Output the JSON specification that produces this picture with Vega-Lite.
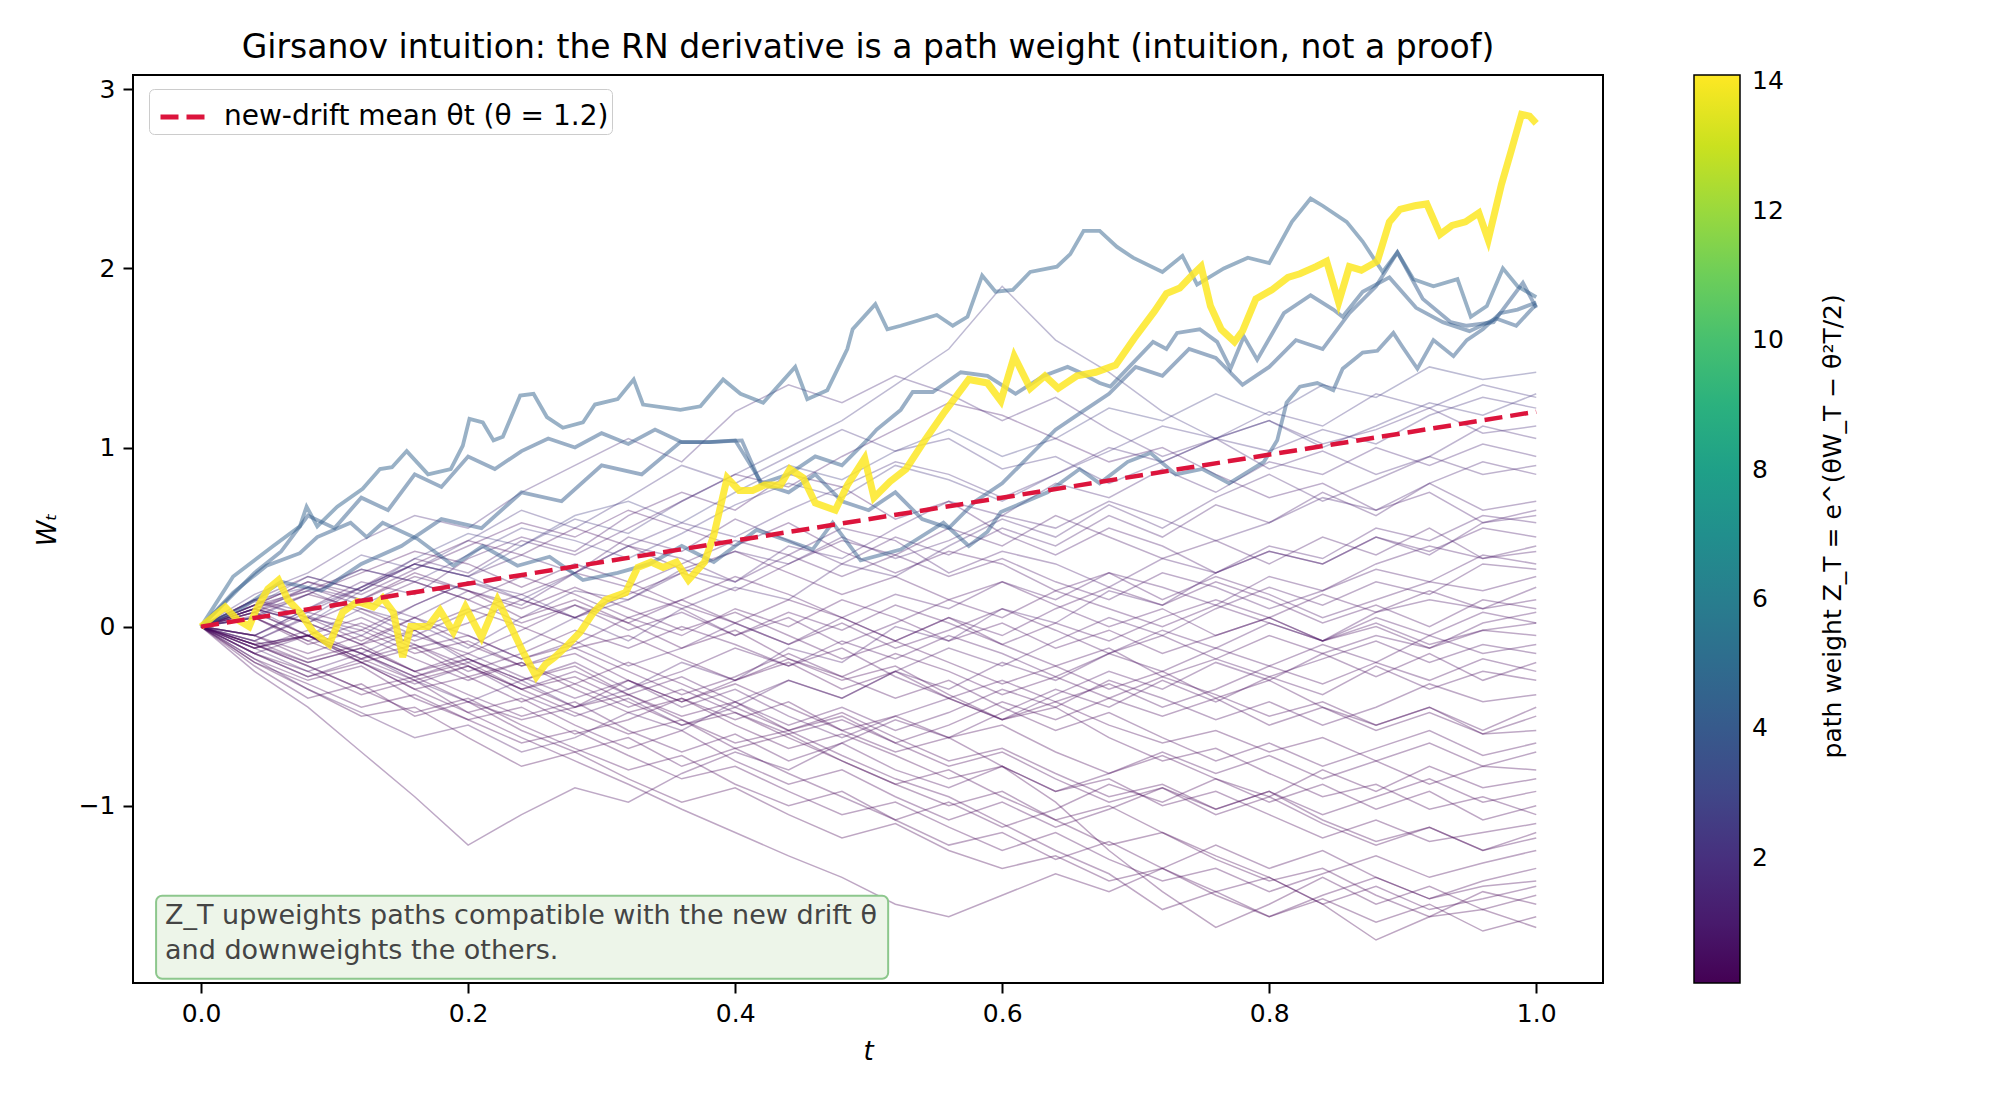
{
"$schema": "https://vega.github.io/schema/vega-lite/v6.json",
"width": 1470,
"height": 908,
"autosize": {"type": "none"},
"padding": {"left": 133, "top": 75, "right": 397, "bottom": 117},
"background": "white",
"config": {
  "font": "DejaVu Sans",
  "view": {"stroke": "black", "strokeWidth": 2},
  "axis": {"domain": false, "grid": false, "tickColor": "black", "tickWidth": 2, "tickSize": 10,
           "labelFont": "DejaVu Sans", "labelFontSize": 25, "labelColor": "black", "labelPadding": 8,
           "titleFont": "DejaVu Sans", "titleFontSize": 26, "titleFontWeight": "normal", "titleColor": "black", "titleFontStyle": "italic"}
},
"title": {"text": "Girsanov intuition: the RN derivative is a path weight (intuition, not a proof)", "fontSize": 33, "fontWeight": "normal", "color": "black", "anchor": "middle", "offset": 10},
"datasets": {
"weights": [
{"p":1,"z":2.68},{"p":2,"z":2.32},{"p":3,"z":2.10},{"p":4,"z":1.72},{"p":5,"z":1.52},{"p":6,"z":1.43},{"p":7,"z":1.13},{"p":8,"z":1.06},{"p":9,"z":0.98},{"p":10,"z":0.89},
{"p":11,"z":0.81},{"p":12,"z":0.74},{"p":13,"z":0.68},{"p":14,"z":0.63},{"p":15,"z":0.58},{"p":16,"z":0.54},{"p":17,"z":0.50},{"p":18,"z":0.46},{"p":19,"z":0.41},{"p":20,"z":0.36},
{"p":21,"z":0.31},{"p":22,"z":0.27},{"p":23,"z":0.24},{"p":24,"z":0.21},{"p":25,"z":0.19},{"p":26,"z":0.16},{"p":27,"z":0.15},{"p":28,"z":0.13},{"p":29,"z":0.12},{"p":30,"z":0.11},
{"p":31,"z":0.096},{"p":32,"z":0.089},{"p":33,"z":0.080},{"p":34,"z":0.076},{"p":35,"z":0.070},{"p":36,"z":0.065},{"p":37,"z":0.72},{"p":38,"z":0.34},{"p":39,"z":0.18},{"p":40,"z":1.02},
{"p":41,"z":0.14},{"p":42,"z":2.26},{"p":43,"z":1.87},{"p":44,"z":0.50},{"p":45,"z":0.43},
{"p":46,"z":4.43},{"p":47,"z":4.22},{"p":48,"z":4.27},{"p":49,"z":4.12},{"p":50,"z":14.1},
{"p":51,"z":1.35},{"p":52,"z":0.84},{"p":53,"z":0.55},{"p":54,"z":0.38},{"p":55,"z":0.28},{"p":56,"z":0.22},{"p":57,"z":0.12},{"p":58,"z":0.085}
],
"paths": [
{"p":1,"t":0,"w":0},{"p":1,"t":0.04,"w":0.12},{"p":1,"t":0.08,"w":0.28},{"p":1,"t":0.12,"w":0.2},{"p":1,"t":0.16,"w":0.38},{"p":1,"t":0.2,"w":0.52},{"p":1,"t":0.24,"w":0.45},{"p":1,"t":0.28,"w":0.62},{"p":1,"t":0.32,"w":0.7},{"p":1,"t":0.36,"w":0.58},{"p":1,"t":0.4,"w":0.75},{"p":1,"t":0.44,"w":0.9},{"p":1,"t":0.48,"w":0.82},{"p":1,"t":0.52,"w":0.98},{"p":1,"t":0.56,"w":1.1},{"p":1,"t":0.6,"w":0.95},{"p":1,"t":0.64,"w":1.05},{"p":1,"t":0.68,"w":1.22},{"p":1,"t":0.72,"w":1.15},{"p":1,"t":0.76,"w":1.3},{"p":1,"t":0.8,"w":1.18},{"p":1,"t":0.84,"w":1.35},{"p":1,"t":0.88,"w":1.28},{"p":1,"t":0.92,"w":1.45},{"p":1,"t":0.96,"w":1.38},{"p":1,"t":1,"w":1.42},
{"p":2,"t":0,"w":0},{"p":2,"t":0.04,"w":0.1},{"p":2,"t":0.08,"w":0.02},{"p":2,"t":0.12,"w":0.2},{"p":2,"t":0.16,"w":0.35},{"p":2,"t":0.2,"w":0.28},{"p":2,"t":0.24,"w":0.45},{"p":2,"t":0.28,"w":0.6},{"p":2,"t":0.32,"w":0.52},{"p":2,"t":0.36,"w":0.7},{"p":2,"t":0.4,"w":0.85},{"p":2,"t":0.44,"w":1.0},{"p":2,"t":0.48,"w":1.15},{"p":2,"t":0.52,"w":1.35},{"p":2,"t":0.56,"w":1.55},{"p":2,"t":0.6,"w":1.9},{"p":2,"t":0.64,"w":1.6},{"p":2,"t":0.68,"w":1.42},{"p":2,"t":0.72,"w":1.2},{"p":2,"t":0.76,"w":1.05},{"p":2,"t":0.8,"w":1.15},{"p":2,"t":0.84,"w":1.0},{"p":2,"t":0.88,"w":1.12},{"p":2,"t":0.92,"w":1.25},{"p":2,"t":0.96,"w":1.18},{"p":2,"t":1,"w":1.3},
{"p":3,"t":0,"w":0},{"p":3,"t":0.04,"w":0.15},{"p":3,"t":0.08,"w":0.22},{"p":3,"t":0.12,"w":0.4},{"p":3,"t":0.16,"w":0.32},{"p":3,"t":0.2,"w":0.48},{"p":3,"t":0.24,"w":0.65},{"p":3,"t":0.28,"w":0.55},{"p":3,"t":0.32,"w":0.72},{"p":3,"t":0.36,"w":0.9},{"p":3,"t":0.4,"w":0.8},{"p":3,"t":0.44,"w":0.95},{"p":3,"t":0.48,"w":1.1},{"p":3,"t":0.52,"w":0.98},{"p":3,"t":0.56,"w":1.05},{"p":3,"t":0.6,"w":0.88},{"p":3,"t":0.64,"w":0.95},{"p":3,"t":0.68,"w":0.8},{"p":3,"t":0.72,"w":0.92},{"p":3,"t":0.76,"w":1.05},{"p":3,"t":0.8,"w":0.98},{"p":3,"t":0.84,"w":1.1},{"p":3,"t":0.88,"w":1.02},{"p":3,"t":0.92,"w":1.18},{"p":3,"t":0.96,"w":1.28},{"p":3,"t":1,"w":1.22},
{"p":4,"t":0,"w":0},{"p":4,"t":0.04,"w":0.18},{"p":4,"t":0.08,"w":0.3},{"p":4,"t":0.12,"w":0.48},{"p":4,"t":0.16,"w":0.62},{"p":4,"t":0.2,"w":0.55},{"p":4,"t":0.24,"w":0.75},{"p":4,"t":0.28,"w":0.9},{"p":4,"t":0.32,"w":1.05},{"p":4,"t":0.36,"w":0.92},{"p":4,"t":0.4,"w":1.2},{"p":4,"t":0.44,"w":1.35},{"p":4,"t":0.48,"w":1.25},{"p":4,"t":0.52,"w":1.4},{"p":4,"t":0.56,"w":1.3},{"p":4,"t":0.6,"w":1.15},{"p":4,"t":0.64,"w":1.28},{"p":4,"t":0.68,"w":1.1},{"p":4,"t":0.72,"w":0.95},{"p":4,"t":0.76,"w":1.05},{"p":4,"t":0.8,"w":0.88},{"p":4,"t":0.84,"w":0.98},{"p":4,"t":0.88,"w":0.85},{"p":4,"t":0.92,"w":0.95},{"p":4,"t":0.96,"w":1.12},{"p":4,"t":1,"w":1.05},
{"p":5,"t":0,"w":0},{"p":5,"t":0.04,"w":-0.1},{"p":5,"t":0.08,"w":-0.05},{"p":5,"t":0.12,"w":0.1},{"p":5,"t":0.16,"w":0.02},{"p":5,"t":0.2,"w":-0.12},{"p":5,"t":0.24,"w":0.05},{"p":5,"t":0.28,"w":0.2},{"p":5,"t":0.32,"w":0.15},{"p":5,"t":0.36,"w":0.32},{"p":5,"t":0.4,"w":0.25},{"p":5,"t":0.44,"w":0.45},{"p":5,"t":0.48,"w":0.38},{"p":5,"t":0.52,"w":0.55},{"p":5,"t":0.56,"w":0.7},{"p":5,"t":0.6,"w":0.62},{"p":5,"t":0.64,"w":0.8},{"p":5,"t":0.68,"w":0.72},{"p":5,"t":0.72,"w":0.88},{"p":5,"t":0.76,"w":0.75},{"p":5,"t":0.8,"w":0.92},{"p":5,"t":0.84,"w":0.85},{"p":5,"t":0.88,"w":1.0},{"p":5,"t":0.92,"w":0.9},{"p":5,"t":0.96,"w":1.02},{"p":5,"t":1,"w":0.95},
{"p":6,"t":0,"w":0},{"p":6,"t":0.04,"w":0.1},{"p":6,"t":0.08,"w":-0.05},{"p":6,"t":0.12,"w":-0.15},{"p":6,"t":0.16,"w":-0.02},{"p":6,"t":0.2,"w":-0.2},{"p":6,"t":0.24,"w":-0.1},{"p":6,"t":0.28,"w":0.05},{"p":6,"t":0.32,"w":-0.08},{"p":6,"t":0.36,"w":0.1},{"p":6,"t":0.4,"w":0.22},{"p":6,"t":0.44,"w":0.15},{"p":6,"t":0.48,"w":0.35},{"p":6,"t":0.52,"w":0.28},{"p":6,"t":0.56,"w":0.45},{"p":6,"t":0.6,"w":0.6},{"p":6,"t":0.64,"w":0.5},{"p":6,"t":0.68,"w":0.68},{"p":6,"t":0.72,"w":0.55},{"p":6,"t":0.76,"w":0.72},{"p":6,"t":0.8,"w":0.85},{"p":6,"t":0.84,"w":0.7},{"p":6,"t":0.88,"w":0.82},{"p":6,"t":0.92,"w":0.95},{"p":6,"t":0.96,"w":0.85},{"p":6,"t":1,"w":0.9},
{"p":7,"t":0,"w":0},{"p":7,"t":0.04,"w":0.14},{"p":7,"t":0.08,"w":0.05},{"p":7,"t":0.12,"w":0.22},{"p":7,"t":0.16,"w":0.35},{"p":7,"t":0.2,"w":0.28},{"p":7,"t":0.24,"w":0.4},{"p":7,"t":0.28,"w":0.3},{"p":7,"t":0.32,"w":0.5},{"p":7,"t":0.36,"w":0.42},{"p":7,"t":0.4,"w":0.6},{"p":7,"t":0.44,"w":0.48},{"p":7,"t":0.48,"w":0.35},{"p":7,"t":0.52,"w":0.5},{"p":7,"t":0.56,"w":0.4},{"p":7,"t":0.6,"w":0.55},{"p":7,"t":0.64,"w":0.45},{"p":7,"t":0.68,"w":0.62},{"p":7,"t":0.72,"w":0.5},{"p":7,"t":0.76,"w":0.68},{"p":7,"t":0.8,"w":0.58},{"p":7,"t":0.84,"w":0.75},{"p":7,"t":0.88,"w":0.62},{"p":7,"t":0.92,"w":0.8},{"p":7,"t":0.96,"w":0.65},{"p":7,"t":1,"w":0.7},
{"p":8,"t":0,"w":0},{"p":8,"t":0.04,"w":-0.12},{"p":8,"t":0.08,"w":-0.25},{"p":8,"t":0.12,"w":-0.15},{"p":8,"t":0.16,"w":-0.3},{"p":8,"t":0.2,"w":-0.42},{"p":8,"t":0.24,"w":-0.3},{"p":8,"t":0.28,"w":-0.45},{"p":8,"t":0.32,"w":-0.35},{"p":8,"t":0.36,"w":-0.2},{"p":8,"t":0.4,"w":-0.3},{"p":8,"t":0.44,"w":-0.12},{"p":8,"t":0.48,"w":-0.2},{"p":8,"t":0.52,"w":0.0},{"p":8,"t":0.56,"w":-0.08},{"p":8,"t":0.6,"w":0.1},{"p":8,"t":0.64,"w":0.02},{"p":8,"t":0.68,"w":0.2},{"p":8,"t":0.72,"w":0.12},{"p":8,"t":0.76,"w":0.3},{"p":8,"t":0.8,"w":0.42},{"p":8,"t":0.84,"w":0.35},{"p":8,"t":0.88,"w":0.5},{"p":8,"t":0.92,"w":0.4},{"p":8,"t":0.96,"w":0.58},{"p":8,"t":1,"w":0.65},
{"p":9,"t":0,"w":0},{"p":9,"t":0.04,"w":0.08},{"p":9,"t":0.08,"w":0.22},{"p":9,"t":0.12,"w":0.15},{"p":9,"t":0.16,"w":0.05},{"p":9,"t":0.2,"w":0.2},{"p":9,"t":0.24,"w":0.12},{"p":9,"t":0.28,"w":0.3},{"p":9,"t":0.32,"w":0.45},{"p":9,"t":0.36,"w":0.38},{"p":9,"t":0.4,"w":0.25},{"p":9,"t":0.44,"w":0.4},{"p":9,"t":0.48,"w":0.55},{"p":9,"t":0.52,"w":0.48},{"p":9,"t":0.56,"w":0.3},{"p":9,"t":0.6,"w":0.42},{"p":9,"t":0.64,"w":0.35},{"p":9,"t":0.68,"w":0.22},{"p":9,"t":0.72,"w":0.38},{"p":9,"t":0.76,"w":0.3},{"p":9,"t":0.8,"w":0.45},{"p":9,"t":0.84,"w":0.38},{"p":9,"t":0.88,"w":0.55},{"p":9,"t":0.92,"w":0.48},{"p":9,"t":0.96,"w":0.62},{"p":9,"t":1,"w":0.58},
{"p":10,"t":0,"w":0},{"p":10,"t":0.04,"w":-0.05},{"p":10,"t":0.08,"w":0.1},{"p":10,"t":0.12,"w":0.25},{"p":10,"t":0.16,"w":0.18},{"p":10,"t":0.2,"w":0.38},{"p":10,"t":0.24,"w":0.5},{"p":10,"t":0.28,"w":0.42},{"p":10,"t":0.32,"w":0.62},{"p":10,"t":0.36,"w":0.75},{"p":10,"t":0.4,"w":0.65},{"p":10,"t":0.44,"w":0.85},{"p":10,"t":0.48,"w":0.78},{"p":10,"t":0.52,"w":0.6},{"p":10,"t":0.56,"w":0.7},{"p":10,"t":0.6,"w":0.52},{"p":10,"t":0.64,"w":0.4},{"p":10,"t":0.68,"w":0.55},{"p":10,"t":0.72,"w":0.45},{"p":10,"t":0.76,"w":0.3},{"p":10,"t":0.8,"w":0.42},{"p":10,"t":0.84,"w":0.35},{"p":10,"t":0.88,"w":0.5},{"p":10,"t":0.92,"w":0.42},{"p":10,"t":0.96,"w":0.55},{"p":10,"t":1,"w":0.5},
{"p":11,"t":0,"w":0},{"p":11,"t":0.04,"w":0.1},{"p":11,"t":0.08,"w":0.02},{"p":11,"t":0.12,"w":-0.1},{"p":11,"t":0.16,"w":0.05},{"p":11,"t":0.2,"w":-0.05},{"p":11,"t":0.24,"w":-0.18},{"p":11,"t":0.28,"w":-0.08},{"p":11,"t":0.32,"w":-0.22},{"p":11,"t":0.36,"w":-0.12},{"p":11,"t":0.4,"w":0.02},{"p":11,"t":0.44,"w":-0.1},{"p":11,"t":0.48,"w":0.05},{"p":11,"t":0.52,"w":0.18},{"p":11,"t":0.56,"w":0.1},{"p":11,"t":0.6,"w":0.25},{"p":11,"t":0.64,"w":0.15},{"p":11,"t":0.68,"w":0.3},{"p":11,"t":0.72,"w":0.22},{"p":11,"t":0.76,"w":0.12},{"p":11,"t":0.8,"w":0.28},{"p":11,"t":0.84,"w":0.2},{"p":11,"t":0.88,"w":0.35},{"p":11,"t":0.92,"w":0.45},{"p":11,"t":0.96,"w":0.38},{"p":11,"t":1,"w":0.42},
{"p":12,"t":0,"w":0},{"p":12,"t":0.04,"w":-0.08},{"p":12,"t":0.08,"w":0.05},{"p":12,"t":0.12,"w":-0.02},{"p":12,"t":0.16,"w":0.12},{"p":12,"t":0.2,"w":0.25},{"p":12,"t":0.24,"w":0.15},{"p":12,"t":0.28,"w":0.05},{"p":12,"t":0.32,"w":0.18},{"p":12,"t":0.36,"w":0.3},{"p":12,"t":0.4,"w":0.2},{"p":12,"t":0.44,"w":0.35},{"p":12,"t":0.48,"w":0.48},{"p":12,"t":0.52,"w":0.4},{"p":12,"t":0.56,"w":0.28},{"p":12,"t":0.6,"w":0.38},{"p":12,"t":0.64,"w":0.25},{"p":12,"t":0.68,"w":0.15},{"p":12,"t":0.72,"w":0.3},{"p":12,"t":0.76,"w":0.22},{"p":12,"t":0.8,"w":0.1},{"p":12,"t":0.84,"w":0.2},{"p":12,"t":0.88,"w":0.32},{"p":12,"t":0.92,"w":0.25},{"p":12,"t":0.96,"w":0.4},{"p":12,"t":1,"w":0.35},
{"p":13,"t":0,"w":0},{"p":13,"t":0.04,"w":0.12},{"p":13,"t":0.08,"w":0.25},{"p":13,"t":0.12,"w":0.18},{"p":13,"t":0.16,"w":0.32},{"p":13,"t":0.2,"w":0.45},{"p":13,"t":0.24,"w":0.58},{"p":13,"t":0.28,"w":0.5},{"p":13,"t":0.32,"w":0.65},{"p":13,"t":0.36,"w":0.55},{"p":13,"t":0.4,"w":0.45},{"p":13,"t":0.44,"w":0.58},{"p":13,"t":0.48,"w":0.42},{"p":13,"t":0.52,"w":0.3},{"p":13,"t":0.56,"w":0.42},{"p":13,"t":0.6,"w":0.35},{"p":13,"t":0.64,"w":0.2},{"p":13,"t":0.68,"w":0.3},{"p":13,"t":0.72,"w":0.15},{"p":13,"t":0.76,"w":0.28},{"p":13,"t":0.8,"w":0.18},{"p":13,"t":0.84,"w":0.05},{"p":13,"t":0.88,"w":0.15},{"p":13,"t":0.92,"w":0.25},{"p":13,"t":0.96,"w":0.2},{"p":13,"t":1,"w":0.28},
{"p":14,"t":0,"w":0},{"p":14,"t":0.04,"w":-0.15},{"p":14,"t":0.08,"w":-0.05},{"p":14,"t":0.12,"w":-0.2},{"p":14,"t":0.16,"w":-0.32},{"p":14,"t":0.2,"w":-0.22},{"p":14,"t":0.24,"w":-0.38},{"p":14,"t":0.28,"w":-0.5},{"p":14,"t":0.32,"w":-0.4},{"p":14,"t":0.36,"w":-0.55},{"p":14,"t":0.4,"w":-0.45},{"p":14,"t":0.44,"w":-0.3},{"p":14,"t":0.48,"w":-0.4},{"p":14,"t":0.52,"w":-0.25},{"p":14,"t":0.56,"w":-0.35},{"p":14,"t":0.6,"w":-0.2},{"p":14,"t":0.64,"w":-0.3},{"p":14,"t":0.68,"w":-0.15},{"p":14,"t":0.72,"w":-0.02},{"p":14,"t":0.76,"w":-0.12},{"p":14,"t":0.8,"w":0.02},{"p":14,"t":0.84,"w":-0.08},{"p":14,"t":0.88,"w":0.08},{"p":14,"t":0.92,"w":0.15},{"p":14,"t":0.96,"w":0.1},{"p":14,"t":1,"w":0.22},
{"p":15,"t":0,"w":0},{"p":15,"t":0.04,"w":0.08},{"p":15,"t":0.08,"w":-0.05},{"p":15,"t":0.12,"w":0.05},{"p":15,"t":0.16,"w":-0.08},{"p":15,"t":0.2,"w":0.02},{"p":15,"t":0.24,"w":0.15},{"p":15,"t":0.28,"w":0.05},{"p":15,"t":0.32,"w":0.2},{"p":15,"t":0.36,"w":0.1},{"p":15,"t":0.4,"w":-0.05},{"p":15,"t":0.44,"w":0.08},{"p":15,"t":0.48,"w":-0.02},{"p":15,"t":0.52,"w":0.12},{"p":15,"t":0.56,"w":0.02},{"p":15,"t":0.6,"w":-0.1},{"p":15,"t":0.64,"w":0.02},{"p":15,"t":0.68,"w":-0.08},{"p":15,"t":0.72,"w":0.05},{"p":15,"t":0.76,"w":0.15},{"p":15,"t":0.8,"w":0.05},{"p":15,"t":0.84,"w":0.18},{"p":15,"t":0.88,"w":0.08},{"p":15,"t":0.92,"w":0.2},{"p":15,"t":0.96,"w":0.1},{"p":15,"t":1,"w":0.15},
{"p":16,"t":0,"w":0},{"p":16,"t":0.04,"w":-0.1},{"p":16,"t":0.08,"w":-0.2},{"p":16,"t":0.12,"w":-0.12},{"p":16,"t":0.16,"w":-0.25},{"p":16,"t":0.2,"w":-0.15},{"p":16,"t":0.24,"w":-0.28},{"p":16,"t":0.28,"w":-0.4},{"p":16,"t":0.32,"w":-0.3},{"p":16,"t":0.36,"w":-0.45},{"p":16,"t":0.4,"w":-0.35},{"p":16,"t":0.44,"w":-0.5},{"p":16,"t":0.48,"w":-0.62},{"p":16,"t":0.52,"w":-0.5},{"p":16,"t":0.56,"w":-0.4},{"p":16,"t":0.6,"w":-0.52},{"p":16,"t":0.64,"w":-0.38},{"p":16,"t":0.68,"w":-0.25},{"p":16,"t":0.72,"w":-0.35},{"p":16,"t":0.76,"w":-0.2},{"p":16,"t":0.8,"w":-0.3},{"p":16,"t":0.84,"w":-0.15},{"p":16,"t":0.88,"w":-0.05},{"p":16,"t":0.92,"w":-0.12},{"p":16,"t":0.96,"w":0.02},{"p":16,"t":1,"w":0.08},
{"p":17,"t":0,"w":0},{"p":17,"t":0.04,"w":0.15},{"p":17,"t":0.08,"w":0.28},{"p":17,"t":0.12,"w":0.2},{"p":17,"t":0.16,"w":0.35},{"p":17,"t":0.2,"w":0.48},{"p":17,"t":0.24,"w":0.4},{"p":17,"t":0.28,"w":0.55},{"p":17,"t":0.32,"w":0.45},{"p":17,"t":0.36,"w":0.32},{"p":17,"t":0.4,"w":0.42},{"p":17,"t":0.44,"w":0.3},{"p":17,"t":0.48,"w":0.18},{"p":17,"t":0.52,"w":0.28},{"p":17,"t":0.56,"w":0.15},{"p":17,"t":0.6,"w":0.25},{"p":17,"t":0.64,"w":0.12},{"p":17,"t":0.68,"w":0.0},{"p":17,"t":0.72,"w":0.1},{"p":17,"t":0.76,"w":-0.05},{"p":17,"t":0.8,"w":0.05},{"p":17,"t":0.84,"w":-0.08},{"p":17,"t":0.88,"w":0.02},{"p":17,"t":0.92,"w":-0.1},{"p":17,"t":0.96,"w":-0.02},{"p":17,"t":1,"w":0.02},
{"p":18,"t":0,"w":0},{"p":18,"t":0.04,"w":-0.05},{"p":18,"t":0.08,"w":0.08},{"p":18,"t":0.12,"w":0.0},{"p":18,"t":0.16,"w":-0.12},{"p":18,"t":0.2,"w":-0.05},{"p":18,"t":0.24,"w":-0.18},{"p":18,"t":0.28,"w":-0.1},{"p":18,"t":0.32,"w":0.05},{"p":18,"t":0.36,"w":-0.05},{"p":18,"t":0.4,"w":0.1},{"p":18,"t":0.44,"w":0.0},{"p":18,"t":0.48,"w":0.15},{"p":18,"t":0.52,"w":0.05},{"p":18,"t":0.56,"w":-0.08},{"p":18,"t":0.6,"w":0.02},{"p":18,"t":0.64,"w":-0.12},{"p":18,"t":0.68,"w":-0.02},{"p":18,"t":0.72,"w":-0.15},{"p":18,"t":0.76,"w":-0.05},{"p":18,"t":0.8,"w":0.05},{"p":18,"t":0.84,"w":-0.08},{"p":18,"t":0.88,"w":0.0},{"p":18,"t":0.92,"w":-0.12},{"p":18,"t":0.96,"w":-0.02},{"p":18,"t":1,"w":-0.05},
{"p":19,"t":0,"w":0},{"p":19,"t":0.04,"w":0.1},{"p":19,"t":0.08,"w":0.2},{"p":19,"t":0.12,"w":0.32},{"p":19,"t":0.16,"w":0.25},{"p":19,"t":0.2,"w":0.15},{"p":19,"t":0.24,"w":0.28},{"p":19,"t":0.28,"w":0.18},{"p":19,"t":0.32,"w":0.05},{"p":19,"t":0.36,"w":0.15},{"p":19,"t":0.4,"w":0.02},{"p":19,"t":0.44,"w":-0.1},{"p":19,"t":0.48,"w":0.02},{"p":19,"t":0.52,"w":-0.12},{"p":19,"t":0.56,"w":-0.02},{"p":19,"t":0.6,"w":0.1},{"p":19,"t":0.64,"w":-0.02},{"p":19,"t":0.68,"w":-0.15},{"p":19,"t":0.72,"w":-0.05},{"p":19,"t":0.76,"w":-0.18},{"p":19,"t":0.8,"w":-0.28},{"p":19,"t":0.84,"w":-0.18},{"p":19,"t":0.88,"w":-0.08},{"p":19,"t":0.92,"w":-0.2},{"p":19,"t":0.96,"w":-0.1},{"p":19,"t":1,"w":-0.15},
{"p":20,"t":0,"w":0},{"p":20,"t":0.04,"w":-0.12},{"p":20,"t":0.08,"w":-0.05},{"p":20,"t":0.12,"w":-0.18},{"p":20,"t":0.16,"w":-0.1},{"p":20,"t":0.2,"w":-0.25},{"p":20,"t":0.24,"w":-0.15},{"p":20,"t":0.28,"w":-0.02},{"p":20,"t":0.32,"w":-0.12},{"p":20,"t":0.36,"w":0.0},{"p":20,"t":0.4,"w":-0.1},{"p":20,"t":0.44,"w":-0.22},{"p":20,"t":0.48,"w":-0.12},{"p":20,"t":0.52,"w":-0.28},{"p":20,"t":0.56,"w":-0.4},{"p":20,"t":0.6,"w":-0.3},{"p":20,"t":0.64,"w":-0.42},{"p":20,"t":0.68,"w":-0.32},{"p":20,"t":0.72,"w":-0.45},{"p":20,"t":0.76,"w":-0.35},{"p":20,"t":0.8,"w":-0.22},{"p":20,"t":0.84,"w":-0.32},{"p":20,"t":0.88,"w":-0.2},{"p":20,"t":0.92,"w":-0.3},{"p":20,"t":0.96,"w":-0.18},{"p":20,"t":1,"w":-0.25},
{"p":21,"t":0,"w":0},{"p":21,"t":0.04,"w":0.05},{"p":21,"t":0.08,"w":-0.08},{"p":21,"t":0.12,"w":0.02},{"p":21,"t":0.16,"w":-0.1},{"p":21,"t":0.2,"w":-0.22},{"p":21,"t":0.24,"w":-0.35},{"p":21,"t":0.28,"w":-0.25},{"p":21,"t":0.32,"w":-0.38},{"p":21,"t":0.36,"w":-0.28},{"p":21,"t":0.4,"w":-0.42},{"p":21,"t":0.44,"w":-0.55},{"p":21,"t":0.48,"w":-0.45},{"p":21,"t":0.52,"w":-0.58},{"p":21,"t":0.56,"w":-0.48},{"p":21,"t":0.6,"w":-0.35},{"p":21,"t":0.64,"w":-0.45},{"p":21,"t":0.68,"w":-0.3},{"p":21,"t":0.72,"w":-0.4},{"p":21,"t":0.76,"w":-0.52},{"p":21,"t":0.8,"w":-0.42},{"p":21,"t":0.84,"w":-0.55},{"p":21,"t":0.88,"w":-0.45},{"p":21,"t":0.92,"w":-0.32},{"p":21,"t":0.96,"w":-0.42},{"p":21,"t":1,"w":-0.38},
{"p":22,"t":0,"w":0},{"p":22,"t":0.04,"w":-0.1},{"p":22,"t":0.08,"w":-0.22},{"p":22,"t":0.12,"w":-0.35},{"p":22,"t":0.16,"w":-0.28},{"p":22,"t":0.2,"w":-0.42},{"p":22,"t":0.24,"w":-0.52},{"p":22,"t":0.28,"w":-0.45},{"p":22,"t":0.32,"w":-0.3},{"p":22,"t":0.36,"w":-0.42},{"p":22,"t":0.4,"w":-0.3},{"p":22,"t":0.44,"w":-0.18},{"p":22,"t":0.48,"w":-0.28},{"p":22,"t":0.52,"w":-0.15},{"p":22,"t":0.56,"w":-0.25},{"p":22,"t":0.6,"w":-0.38},{"p":22,"t":0.64,"w":-0.28},{"p":22,"t":0.68,"w":-0.4},{"p":22,"t":0.72,"w":-0.5},{"p":22,"t":0.76,"w":-0.4},{"p":22,"t":0.8,"w":-0.55},{"p":22,"t":0.84,"w":-0.45},{"p":22,"t":0.88,"w":-0.58},{"p":22,"t":0.92,"w":-0.48},{"p":22,"t":0.96,"w":-0.6},{"p":22,"t":1,"w":-0.5},
{"p":23,"t":0,"w":0},{"p":23,"t":0.04,"w":0.12},{"p":23,"t":0.08,"w":0.02},{"p":23,"t":0.12,"w":0.15},{"p":23,"t":0.16,"w":0.28},{"p":23,"t":0.2,"w":0.2},{"p":23,"t":0.24,"w":0.1},{"p":23,"t":0.28,"w":0.22},{"p":23,"t":0.32,"w":0.1},{"p":23,"t":0.36,"w":-0.02},{"p":23,"t":0.4,"w":0.08},{"p":23,"t":0.44,"w":-0.05},{"p":23,"t":0.48,"w":-0.18},{"p":23,"t":0.52,"w":-0.08},{"p":23,"t":0.56,"w":-0.2},{"p":23,"t":0.6,"w":-0.32},{"p":23,"t":0.64,"w":-0.22},{"p":23,"t":0.68,"w":-0.35},{"p":23,"t":0.72,"w":-0.25},{"p":23,"t":0.76,"w":-0.4},{"p":23,"t":0.8,"w":-0.3},{"p":23,"t":0.84,"w":-0.45},{"p":23,"t":0.88,"w":-0.55},{"p":23,"t":0.92,"w":-0.45},{"p":23,"t":0.96,"w":-0.6},{"p":23,"t":1,"w":-0.58},
{"p":24,"t":0,"w":0},{"p":24,"t":0.04,"w":-0.08},{"p":24,"t":0.08,"w":-0.2},{"p":24,"t":0.12,"w":-0.12},{"p":24,"t":0.16,"w":-0.25},{"p":24,"t":0.2,"w":-0.38},{"p":24,"t":0.24,"w":-0.5},{"p":24,"t":0.28,"w":-0.42},{"p":24,"t":0.32,"w":-0.58},{"p":24,"t":0.36,"w":-0.7},{"p":24,"t":0.4,"w":-0.6},{"p":24,"t":0.44,"w":-0.75},{"p":24,"t":0.48,"w":-0.65},{"p":24,"t":0.52,"w":-0.8},{"p":24,"t":0.56,"w":-0.9},{"p":24,"t":0.6,"w":-0.78},{"p":24,"t":0.64,"w":-0.92},{"p":24,"t":0.68,"w":-0.82},{"p":24,"t":0.72,"w":-0.7},{"p":24,"t":0.76,"w":-0.82},{"p":24,"t":0.8,"w":-0.72},{"p":24,"t":0.84,"w":-0.85},{"p":24,"t":0.88,"w":-0.75},{"p":24,"t":0.92,"w":-0.65},{"p":24,"t":0.96,"w":-0.78},{"p":24,"t":1,"w":-0.7},
{"p":25,"t":0,"w":0},{"p":25,"t":0.04,"w":0.08},{"p":25,"t":0.08,"w":0.18},{"p":25,"t":0.12,"w":0.1},{"p":25,"t":0.16,"w":-0.02},{"p":25,"t":0.2,"w":0.1},{"p":25,"t":0.24,"w":0.0},{"p":25,"t":0.28,"w":-0.12},{"p":25,"t":0.32,"w":-0.05},{"p":25,"t":0.36,"w":-0.18},{"p":25,"t":0.4,"w":-0.3},{"p":25,"t":0.44,"w":-0.2},{"p":25,"t":0.48,"w":-0.35},{"p":25,"t":0.52,"w":-0.25},{"p":25,"t":0.56,"w":-0.4},{"p":25,"t":0.6,"w":-0.52},{"p":25,"t":0.64,"w":-0.42},{"p":25,"t":0.68,"w":-0.55},{"p":25,"t":0.72,"w":-0.65},{"p":25,"t":0.76,"w":-0.58},{"p":25,"t":0.8,"w":-0.7},{"p":25,"t":0.84,"w":-0.62},{"p":25,"t":0.88,"w":-0.75},{"p":25,"t":0.92,"w":-0.88},{"p":25,"t":0.96,"w":-0.78},{"p":25,"t":1,"w":-0.8},
{"p":26,"t":0,"w":0},{"p":26,"t":0.04,"w":-0.15},{"p":26,"t":0.08,"w":-0.28},{"p":26,"t":0.12,"w":-0.2},{"p":26,"t":0.16,"w":-0.35},{"p":26,"t":0.2,"w":-0.48},{"p":26,"t":0.24,"w":-0.4},{"p":26,"t":0.28,"w":-0.55},{"p":26,"t":0.32,"w":-0.68},{"p":26,"t":0.36,"w":-0.58},{"p":26,"t":0.4,"w":-0.75},{"p":26,"t":0.44,"w":-0.88},{"p":26,"t":0.48,"w":-0.8},{"p":26,"t":0.52,"w":-0.95},{"p":26,"t":0.56,"w":-1.08},{"p":26,"t":0.6,"w":-0.98},{"p":26,"t":0.64,"w":-1.12},{"p":26,"t":0.68,"w":-1.02},{"p":26,"t":0.72,"w":-0.9},{"p":26,"t":0.76,"w":-1.02},{"p":26,"t":0.8,"w":-0.92},{"p":26,"t":0.84,"w":-1.05},{"p":26,"t":0.88,"w":-0.95},{"p":26,"t":0.92,"w":-0.85},{"p":26,"t":0.96,"w":-0.98},{"p":26,"t":1,"w":-0.92},
{"p":27,"t":0,"w":0},{"p":27,"t":0.04,"w":0.05},{"p":27,"t":0.08,"w":-0.1},{"p":27,"t":0.12,"w":-0.02},{"p":27,"t":0.16,"w":-0.15},{"p":27,"t":0.2,"w":-0.08},{"p":27,"t":0.24,"w":-0.22},{"p":27,"t":0.28,"w":-0.15},{"p":27,"t":0.32,"w":-0.3},{"p":27,"t":0.36,"w":-0.42},{"p":27,"t":0.4,"w":-0.32},{"p":27,"t":0.44,"w":-0.45},{"p":27,"t":0.48,"w":-0.58},{"p":27,"t":0.52,"w":-0.5},{"p":27,"t":0.56,"w":-0.62},{"p":27,"t":0.6,"w":-0.55},{"p":27,"t":0.64,"w":-0.7},{"p":27,"t":0.68,"w":-0.82},{"p":27,"t":0.72,"w":-0.72},{"p":27,"t":0.76,"w":-0.85},{"p":27,"t":0.8,"w":-0.98},{"p":27,"t":0.84,"w":-0.88},{"p":27,"t":0.88,"w":-1.02},{"p":27,"t":0.92,"w":-0.92},{"p":27,"t":0.96,"w":-1.08},{"p":27,"t":1,"w":-1.0},
{"p":28,"t":0,"w":0},{"p":28,"t":0.04,"w":-0.2},{"p":28,"t":0.08,"w":-0.32},{"p":28,"t":0.12,"w":-0.45},{"p":28,"t":0.16,"w":-0.38},{"p":28,"t":0.2,"w":-0.52},{"p":28,"t":0.24,"w":-0.45},{"p":28,"t":0.28,"w":-0.6},{"p":28,"t":0.32,"w":-0.52},{"p":28,"t":0.36,"w":-0.4},{"p":28,"t":0.4,"w":-0.52},{"p":28,"t":0.44,"w":-0.42},{"p":28,"t":0.48,"w":-0.58},{"p":28,"t":0.52,"w":-0.7},{"p":28,"t":0.56,"w":-0.62},{"p":28,"t":0.6,"w":-0.78},{"p":28,"t":0.64,"w":-0.92},{"p":28,"t":0.68,"w":-0.85},{"p":28,"t":0.72,"w":-1.0},{"p":28,"t":0.76,"w":-0.92},{"p":28,"t":0.8,"w":-1.05},{"p":28,"t":0.84,"w":-1.18},{"p":28,"t":0.88,"w":-1.08},{"p":28,"t":0.92,"w":-1.2},{"p":28,"t":0.96,"w":-1.15},{"p":28,"t":1,"w":-1.1},
{"p":29,"t":0,"w":0},{"p":29,"t":0.04,"w":0.1},{"p":29,"t":0.08,"w":0.02},{"p":29,"t":0.12,"w":-0.1},{"p":29,"t":0.16,"w":-0.02},{"p":29,"t":0.2,"w":-0.18},{"p":29,"t":0.24,"w":-0.3},{"p":29,"t":0.28,"w":-0.22},{"p":29,"t":0.32,"w":-0.38},{"p":29,"t":0.36,"w":-0.5},{"p":29,"t":0.4,"w":-0.42},{"p":29,"t":0.44,"w":-0.58},{"p":29,"t":0.48,"w":-0.48},{"p":29,"t":0.52,"w":-0.62},{"p":29,"t":0.56,"w":-0.75},{"p":29,"t":0.6,"w":-0.68},{"p":29,"t":0.64,"w":-0.82},{"p":29,"t":0.68,"w":-0.95},{"p":29,"t":0.72,"w":-0.88},{"p":29,"t":0.76,"w":-1.02},{"p":29,"t":0.8,"w":-0.92},{"p":29,"t":0.84,"w":-1.08},{"p":29,"t":0.88,"w":-1.2},{"p":29,"t":0.92,"w":-1.12},{"p":29,"t":0.96,"w":-1.25},{"p":29,"t":1,"w":-1.18},
{"p":30,"t":0,"w":0},{"p":30,"t":0.04,"w":-0.18},{"p":30,"t":0.08,"w":-0.3},{"p":30,"t":0.12,"w":-0.22},{"p":30,"t":0.16,"w":-0.4},{"p":30,"t":0.2,"w":-0.52},{"p":30,"t":0.24,"w":-0.65},{"p":30,"t":0.28,"w":-0.58},{"p":30,"t":0.32,"w":-0.72},{"p":30,"t":0.36,"w":-0.85},{"p":30,"t":0.4,"w":-0.78},{"p":30,"t":0.44,"w":-0.92},{"p":30,"t":0.48,"w":-1.05},{"p":30,"t":0.52,"w":-0.98},{"p":30,"t":0.56,"w":-1.12},{"p":30,"t":0.6,"w":-1.25},{"p":30,"t":0.64,"w":-1.15},{"p":30,"t":0.68,"w":-1.3},{"p":30,"t":0.72,"w":-1.42},{"p":30,"t":0.76,"w":-1.35},{"p":30,"t":0.8,"w":-1.48},{"p":30,"t":0.84,"w":-1.38},{"p":30,"t":0.88,"w":-1.28},{"p":30,"t":0.92,"w":-1.4},{"p":30,"t":0.96,"w":-1.32},{"p":30,"t":1,"w":-1.25},
{"p":31,"t":0,"w":0},{"p":31,"t":0.04,"w":-0.05},{"p":31,"t":0.08,"w":-0.18},{"p":31,"t":0.12,"w":-0.1},{"p":31,"t":0.16,"w":-0.25},{"p":31,"t":0.2,"w":-0.18},{"p":31,"t":0.24,"w":-0.32},{"p":31,"t":0.28,"w":-0.45},{"p":31,"t":0.32,"w":-0.38},{"p":31,"t":0.36,"w":-0.52},{"p":31,"t":0.4,"w":-0.65},{"p":31,"t":0.44,"w":-0.58},{"p":31,"t":0.48,"w":-0.72},{"p":31,"t":0.52,"w":-0.85},{"p":31,"t":0.56,"w":-0.95},{"p":31,"t":0.6,"w":-1.1},{"p":31,"t":0.64,"w":-1.25},{"p":31,"t":0.68,"w":-1.38},{"p":31,"t":0.72,"w":-1.58},{"p":31,"t":0.76,"w":-1.48},{"p":31,"t":0.8,"w":-1.62},{"p":31,"t":0.84,"w":-1.5},{"p":31,"t":0.88,"w":-1.4},{"p":31,"t":0.92,"w":-1.52},{"p":31,"t":0.96,"w":-1.42},{"p":31,"t":1,"w":-1.35},
{"p":32,"t":0,"w":0},{"p":32,"t":0.04,"w":-0.15},{"p":32,"t":0.08,"w":-0.25},{"p":32,"t":0.12,"w":-0.38},{"p":32,"t":0.16,"w":-0.3},{"p":32,"t":0.2,"w":-0.48},{"p":32,"t":0.24,"w":-0.62},{"p":32,"t":0.28,"w":-0.75},{"p":32,"t":0.32,"w":-0.88},{"p":32,"t":0.36,"w":-1.02},{"p":32,"t":0.4,"w":-1.15},{"p":32,"t":0.44,"w":-1.28},{"p":32,"t":0.48,"w":-1.4},{"p":32,"t":0.52,"w":-1.55},{"p":32,"t":0.56,"w":-1.62},{"p":32,"t":0.6,"w":-1.5},{"p":32,"t":0.64,"w":-1.38},{"p":32,"t":0.68,"w":-1.48},{"p":32,"t":0.72,"w":-1.35},{"p":32,"t":0.76,"w":-1.22},{"p":32,"t":0.8,"w":-1.35},{"p":32,"t":0.84,"w":-1.25},{"p":32,"t":0.88,"w":-1.4},{"p":32,"t":0.92,"w":-1.52},{"p":32,"t":0.96,"w":-1.45},{"p":32,"t":1,"w":-1.42},
{"p":33,"t":0,"w":0},{"p":33,"t":0.04,"w":0.05},{"p":33,"t":0.08,"w":-0.08},{"p":33,"t":0.12,"w":-0.2},{"p":33,"t":0.16,"w":-0.12},{"p":33,"t":0.2,"w":-0.28},{"p":33,"t":0.24,"w":-0.2},{"p":33,"t":0.28,"w":-0.35},{"p":33,"t":0.32,"w":-0.48},{"p":33,"t":0.36,"w":-0.4},{"p":33,"t":0.4,"w":-0.55},{"p":33,"t":0.44,"w":-0.68},{"p":33,"t":0.48,"w":-0.6},{"p":33,"t":0.52,"w":-0.72},{"p":33,"t":0.56,"w":-0.85},{"p":33,"t":0.6,"w":-0.78},{"p":33,"t":0.64,"w":-0.98},{"p":33,"t":0.68,"w":-1.25},{"p":33,"t":0.72,"w":-1.48},{"p":33,"t":0.76,"w":-1.68},{"p":33,"t":0.8,"w":-1.55},{"p":33,"t":0.84,"w":-1.4},{"p":33,"t":0.88,"w":-1.55},{"p":33,"t":0.92,"w":-1.45},{"p":33,"t":0.96,"w":-1.58},{"p":33,"t":1,"w":-1.5},
{"p":34,"t":0,"w":0},{"p":34,"t":0.04,"w":-0.1},{"p":34,"t":0.08,"w":-0.05},{"p":34,"t":0.12,"w":-0.18},{"p":34,"t":0.16,"w":-0.3},{"p":34,"t":0.2,"w":-0.22},{"p":34,"t":0.24,"w":-0.35},{"p":34,"t":0.28,"w":-0.28},{"p":34,"t":0.32,"w":-0.42},{"p":34,"t":0.36,"w":-0.55},{"p":34,"t":0.4,"w":-0.48},{"p":34,"t":0.44,"w":-0.62},{"p":34,"t":0.48,"w":-0.75},{"p":34,"t":0.52,"w":-0.88},{"p":34,"t":0.56,"w":-0.8},{"p":34,"t":0.6,"w":-0.95},{"p":34,"t":0.64,"w":-1.08},{"p":34,"t":0.68,"w":-1.0},{"p":34,"t":0.72,"w":-1.15},{"p":34,"t":0.76,"w":-1.28},{"p":34,"t":0.8,"w":-1.4},{"p":34,"t":0.84,"w":-1.55},{"p":34,"t":0.88,"w":-1.75},{"p":34,"t":0.92,"w":-1.62},{"p":34,"t":0.96,"w":-1.48},{"p":34,"t":1,"w":-1.55},
{"p":35,"t":0,"w":0},{"p":35,"t":0.04,"w":-0.2},{"p":35,"t":0.08,"w":-0.35},{"p":35,"t":0.12,"w":-0.5},{"p":35,"t":0.16,"w":-0.45},{"p":35,"t":0.2,"w":-0.62},{"p":35,"t":0.24,"w":-0.78},{"p":35,"t":0.28,"w":-0.7},{"p":35,"t":0.32,"w":-0.85},{"p":35,"t":0.36,"w":-0.98},{"p":35,"t":0.4,"w":-0.9},{"p":35,"t":0.44,"w":-1.05},{"p":35,"t":0.48,"w":-1.18},{"p":35,"t":0.52,"w":-1.1},{"p":35,"t":0.56,"w":-1.25},{"p":35,"t":0.6,"w":-1.35},{"p":35,"t":0.64,"w":-1.28},{"p":35,"t":0.68,"w":-1.42},{"p":35,"t":0.72,"w":-1.35},{"p":35,"t":0.76,"w":-1.5},{"p":35,"t":0.8,"w":-1.62},{"p":35,"t":0.84,"w":-1.52},{"p":35,"t":0.88,"w":-1.65},{"p":35,"t":0.92,"w":-1.55},{"p":35,"t":0.96,"w":-1.7},{"p":35,"t":1,"w":-1.62},
{"p":36,"t":0,"w":0},{"p":36,"t":0.04,"w":0.08},{"p":36,"t":0.08,"w":-0.05},{"p":36,"t":0.12,"w":-0.15},{"p":36,"t":0.16,"w":-0.28},{"p":36,"t":0.2,"w":-0.2},{"p":36,"t":0.24,"w":-0.35},{"p":36,"t":0.28,"w":-0.48},{"p":36,"t":0.32,"w":-0.6},{"p":36,"t":0.36,"w":-0.52},{"p":36,"t":0.4,"w":-0.68},{"p":36,"t":0.44,"w":-0.6},{"p":36,"t":0.48,"w":-0.75},{"p":36,"t":0.52,"w":-0.88},{"p":36,"t":0.56,"w":-1.0},{"p":36,"t":0.6,"w":-0.92},{"p":36,"t":0.64,"w":-1.08},{"p":36,"t":0.68,"w":-1.22},{"p":36,"t":0.72,"w":-1.15},{"p":36,"t":0.76,"w":-1.3},{"p":36,"t":0.8,"w":-1.42},{"p":36,"t":0.84,"w":-1.35},{"p":36,"t":0.88,"w":-1.5},{"p":36,"t":0.92,"w":-1.62},{"p":36,"t":0.96,"w":-1.58},{"p":36,"t":1,"w":-1.68},
{"p":37,"t":0,"w":0},{"p":37,"t":0.04,"w":-0.18},{"p":37,"t":0.08,"w":-0.35},{"p":37,"t":0.12,"w":-0.48},{"p":37,"t":0.16,"w":-0.62},{"p":37,"t":0.2,"w":-0.55},{"p":37,"t":0.24,"w":-0.7},{"p":37,"t":0.28,"w":-0.62},{"p":37,"t":0.32,"w":-0.48},{"p":37,"t":0.36,"w":-0.58},{"p":37,"t":0.4,"w":-0.42},{"p":37,"t":0.44,"w":-0.3},{"p":37,"t":0.48,"w":-0.4},{"p":37,"t":0.52,"w":-0.25},{"p":37,"t":0.56,"w":-0.12},{"p":37,"t":0.6,"w":-0.22},{"p":37,"t":0.64,"w":-0.08},{"p":37,"t":0.68,"w":0.05},{"p":37,"t":0.72,"w":-0.05},{"p":37,"t":0.76,"w":0.1},{"p":37,"t":0.8,"w":0.22},{"p":37,"t":0.84,"w":0.12},{"p":37,"t":0.88,"w":0.25},{"p":37,"t":0.92,"w":0.18},{"p":37,"t":0.96,"w":0.35},{"p":37,"t":1,"w":0.32},
{"p":38,"t":0,"w":0},{"p":38,"t":0.04,"w":-0.25},{"p":38,"t":0.08,"w":-0.45},{"p":38,"t":0.12,"w":-0.7},{"p":38,"t":0.16,"w":-0.95},{"p":38,"t":0.2,"w":-1.22},{"p":38,"t":0.24,"w":-1.05},{"p":38,"t":0.28,"w":-0.9},{"p":38,"t":0.32,"w":-0.98},{"p":38,"t":0.36,"w":-0.82},{"p":38,"t":0.4,"w":-0.7},{"p":38,"t":0.44,"w":-0.8},{"p":38,"t":0.48,"w":-0.65},{"p":38,"t":0.52,"w":-0.52},{"p":38,"t":0.56,"w":-0.62},{"p":38,"t":0.6,"w":-0.48},{"p":38,"t":0.64,"w":-0.35},{"p":38,"t":0.68,"w":-0.45},{"p":38,"t":0.72,"w":-0.3},{"p":38,"t":0.76,"w":-0.42},{"p":38,"t":0.8,"w":-0.28},{"p":38,"t":0.84,"w":-0.38},{"p":38,"t":0.88,"w":-0.22},{"p":38,"t":0.92,"w":-0.35},{"p":38,"t":0.96,"w":-0.25},{"p":38,"t":1,"w":-0.3},
{"p":39,"t":0,"w":0},{"p":39,"t":0.04,"w":-0.22},{"p":39,"t":0.08,"w":-0.4},{"p":39,"t":0.12,"w":-0.32},{"p":39,"t":0.16,"w":-0.5},{"p":39,"t":0.2,"w":-0.42},{"p":39,"t":0.24,"w":-0.58},{"p":39,"t":0.28,"w":-0.7},{"p":39,"t":0.32,"w":-0.62},{"p":39,"t":0.36,"w":-0.78},{"p":39,"t":0.4,"w":-0.68},{"p":39,"t":0.44,"w":-0.82},{"p":39,"t":0.48,"w":-0.95},{"p":39,"t":0.52,"w":-1.08},{"p":39,"t":0.56,"w":-0.98},{"p":39,"t":0.6,"w":-1.12},{"p":39,"t":0.64,"w":-1.02},{"p":39,"t":0.68,"w":-0.88},{"p":39,"t":0.72,"w":-0.98},{"p":39,"t":0.76,"w":-0.85},{"p":39,"t":0.8,"w":-0.95},{"p":39,"t":0.84,"w":-0.8},{"p":39,"t":0.88,"w":-0.92},{"p":39,"t":0.92,"w":-0.78},{"p":39,"t":0.96,"w":-0.9},{"p":39,"t":1,"w":-0.85},
{"p":40,"t":0,"w":0},{"p":40,"t":0.04,"w":0.15},{"p":40,"t":0.08,"w":0.08},{"p":40,"t":0.12,"w":0.22},{"p":40,"t":0.16,"w":0.38},{"p":40,"t":0.2,"w":0.3},{"p":40,"t":0.24,"w":0.48},{"p":40,"t":0.28,"w":0.4},{"p":40,"t":0.32,"w":0.55},{"p":40,"t":0.36,"w":0.7},{"p":40,"t":0.4,"w":0.85},{"p":40,"t":0.44,"w":0.78},{"p":40,"t":0.48,"w":0.95},{"p":40,"t":0.52,"w":1.1},{"p":40,"t":0.56,"w":1.25},{"p":40,"t":0.6,"w":1.18},{"p":40,"t":0.64,"w":1.05},{"p":40,"t":0.68,"w":0.92},{"p":40,"t":0.72,"w":1.0},{"p":40,"t":0.76,"w":0.85},{"p":40,"t":0.8,"w":0.72},{"p":40,"t":0.84,"w":0.8},{"p":40,"t":0.88,"w":0.65},{"p":40,"t":0.92,"w":0.75},{"p":40,"t":0.96,"w":0.58},{"p":40,"t":1,"w":0.62},
{"p":41,"t":0,"w":0},{"p":41,"t":0.04,"w":0.12},{"p":41,"t":0.08,"w":0.25},{"p":41,"t":0.12,"w":0.15},{"p":41,"t":0.16,"w":0.3},{"p":41,"t":0.2,"w":0.2},{"p":41,"t":0.24,"w":0.05},{"p":41,"t":0.28,"w":0.15},{"p":41,"t":0.32,"w":0.02},{"p":41,"t":0.36,"w":-0.12},{"p":41,"t":0.4,"w":-0.02},{"p":41,"t":0.44,"w":-0.18},{"p":41,"t":0.48,"w":-0.3},{"p":41,"t":0.52,"w":-0.22},{"p":41,"t":0.56,"w":-0.38},{"p":41,"t":0.6,"w":-0.52},{"p":41,"t":0.64,"w":-0.45},{"p":41,"t":0.68,"w":-0.62},{"p":41,"t":0.72,"w":-0.75},{"p":41,"t":0.76,"w":-0.68},{"p":41,"t":0.8,"w":-0.82},{"p":41,"t":0.84,"w":-0.95},{"p":41,"t":0.88,"w":-0.88},{"p":41,"t":0.92,"w":-1.02},{"p":41,"t":0.96,"w":-0.95},{"p":41,"t":1,"w":-1.05},
{"p":42,"t":0,"w":0},{"p":42,"t":0.04,"w":0.05},{"p":42,"t":0.08,"w":0.18},{"p":42,"t":0.12,"w":0.32},{"p":42,"t":0.16,"w":0.25},{"p":42,"t":0.2,"w":0.4},{"p":42,"t":0.24,"w":0.55},{"p":42,"t":0.28,"w":0.48},{"p":42,"t":0.32,"w":0.38},{"p":42,"t":0.36,"w":0.52},{"p":42,"t":0.4,"w":0.68},{"p":42,"t":0.44,"w":0.8},{"p":42,"t":0.48,"w":0.72},{"p":42,"t":0.52,"w":0.9},{"p":42,"t":0.56,"w":0.82},{"p":42,"t":0.6,"w":0.7},{"p":42,"t":0.64,"w":0.85},{"p":42,"t":0.68,"w":0.98},{"p":42,"t":0.72,"w":1.12},{"p":42,"t":0.76,"w":1.05},{"p":42,"t":0.8,"w":1.2},{"p":42,"t":0.84,"w":1.12},{"p":42,"t":0.88,"w":1.3},{"p":42,"t":0.92,"w":1.22},{"p":42,"t":0.96,"w":1.35},{"p":42,"t":1,"w":1.28},
{"p":43,"t":0,"w":0},{"p":43,"t":0.04,"w":-0.05},{"p":43,"t":0.08,"w":0.1},{"p":43,"t":0.12,"w":0.22},{"p":43,"t":0.16,"w":0.35},{"p":43,"t":0.2,"w":0.28},{"p":43,"t":0.24,"w":0.15},{"p":43,"t":0.28,"w":0.3},{"p":43,"t":0.32,"w":0.45},{"p":43,"t":0.36,"w":0.58},{"p":43,"t":0.4,"w":0.5},{"p":43,"t":0.44,"w":0.65},{"p":43,"t":0.48,"w":0.78},{"p":43,"t":0.52,"w":0.92},{"p":43,"t":0.56,"w":0.85},{"p":43,"t":0.6,"w":0.72},{"p":43,"t":0.64,"w":0.85},{"p":43,"t":0.68,"w":1.0},{"p":43,"t":0.72,"w":0.92},{"p":43,"t":0.76,"w":1.05},{"p":43,"t":0.8,"w":1.15},{"p":43,"t":0.84,"w":1.02},{"p":43,"t":0.88,"w":1.1},{"p":43,"t":0.92,"w":1.22},{"p":43,"t":0.96,"w":1.08},{"p":43,"t":1,"w":1.12},
{"p":44,"t":0,"w":0},{"p":44,"t":0.04,"w":0.1},{"p":44,"t":0.08,"w":0.22},{"p":44,"t":0.12,"w":0.12},{"p":44,"t":0.16,"w":0.25},{"p":44,"t":0.2,"w":0.15},{"p":44,"t":0.24,"w":0.02},{"p":44,"t":0.28,"w":0.12},{"p":44,"t":0.32,"w":-0.02},{"p":44,"t":0.36,"w":0.08},{"p":44,"t":0.4,"w":-0.05},{"p":44,"t":0.44,"w":0.05},{"p":44,"t":0.48,"w":-0.1},{"p":44,"t":0.52,"w":0.02},{"p":44,"t":0.56,"w":0.15},{"p":44,"t":0.6,"w":0.05},{"p":44,"t":0.64,"w":0.2},{"p":44,"t":0.68,"w":0.1},{"p":44,"t":0.72,"w":0.0},{"p":44,"t":0.76,"w":0.12},{"p":44,"t":0.8,"w":0.02},{"p":44,"t":0.84,"w":-0.08},{"p":44,"t":0.88,"w":0.05},{"p":44,"t":0.92,"w":-0.05},{"p":44,"t":0.96,"w":0.08},{"p":44,"t":1,"w":0.02},
{"p":45,"t":0,"w":0},{"p":45,"t":0.04,"w":-0.12},{"p":45,"t":0.08,"w":-0.02},{"p":45,"t":0.12,"w":-0.15},{"p":45,"t":0.16,"w":-0.28},{"p":45,"t":0.2,"w":-0.18},{"p":45,"t":0.24,"w":-0.3},{"p":45,"t":0.28,"w":-0.2},{"p":45,"t":0.32,"w":-0.35},{"p":45,"t":0.36,"w":-0.25},{"p":45,"t":0.4,"w":-0.12},{"p":45,"t":0.44,"w":-0.22},{"p":45,"t":0.48,"w":-0.08},{"p":45,"t":0.52,"w":-0.18},{"p":45,"t":0.56,"w":-0.05},{"p":45,"t":0.6,"w":-0.15},{"p":45,"t":0.64,"w":-0.28},{"p":45,"t":0.68,"w":-0.15},{"p":45,"t":0.72,"w":-0.25},{"p":45,"t":0.76,"w":-0.12},{"p":45,"t":0.8,"w":-0.22},{"p":45,"t":0.84,"w":-0.1},{"p":45,"t":0.88,"w":-0.2},{"p":45,"t":0.92,"w":-0.05},{"p":45,"t":0.96,"w":-0.15},{"p":45,"t":1,"w":-0.1},
{"p":51,"t":0,"w":0},{"p":51,"t":0.04,"w":-0.08},{"p":51,"t":0.08,"w":0.06},{"p":51,"t":0.12,"w":-0.05},{"p":51,"t":0.16,"w":0.12},{"p":51,"t":0.2,"w":0.25},{"p":51,"t":0.24,"w":0.18},{"p":51,"t":0.28,"w":0.05},{"p":51,"t":0.32,"w":0.15},{"p":51,"t":0.36,"w":0.3},{"p":51,"t":0.4,"w":0.42},{"p":51,"t":0.44,"w":0.35},{"p":51,"t":0.48,"w":0.5},{"p":51,"t":0.52,"w":0.38},{"p":51,"t":0.56,"w":0.48},{"p":51,"t":0.6,"w":0.62},{"p":51,"t":0.64,"w":0.55},{"p":51,"t":0.68,"w":0.7},{"p":51,"t":0.72,"w":0.6},{"p":51,"t":0.76,"w":0.48},{"p":51,"t":0.8,"w":0.58},{"p":51,"t":0.84,"w":0.72},{"p":51,"t":0.88,"w":0.65},{"p":51,"t":0.92,"w":0.8},{"p":51,"t":0.96,"w":0.92},{"p":51,"t":1,"w":0.85},
{"p":52,"t":0,"w":0},{"p":52,"t":0.04,"w":0.12},{"p":52,"t":0.08,"w":0.2},{"p":52,"t":0.12,"w":0.08},{"p":52,"t":0.16,"w":-0.05},{"p":52,"t":0.2,"w":0.08},{"p":52,"t":0.24,"w":0.18},{"p":52,"t":0.28,"w":0.3},{"p":52,"t":0.32,"w":0.22},{"p":52,"t":0.36,"w":0.35},{"p":52,"t":0.4,"w":0.48},{"p":52,"t":0.44,"w":0.4},{"p":52,"t":0.48,"w":0.28},{"p":52,"t":0.52,"w":0.4},{"p":52,"t":0.56,"w":0.55},{"p":52,"t":0.6,"w":0.45},{"p":52,"t":0.64,"w":0.62},{"p":52,"t":0.68,"w":0.5},{"p":52,"t":0.72,"w":0.38},{"p":52,"t":0.76,"w":0.48},{"p":52,"t":0.8,"w":0.35},{"p":52,"t":0.84,"w":0.5},{"p":52,"t":0.88,"w":0.4},{"p":52,"t":0.92,"w":0.55},{"p":52,"t":0.96,"w":0.38},{"p":52,"t":1,"w":0.45},
{"p":53,"t":0,"w":0},{"p":53,"t":0.04,"w":-0.15},{"p":53,"t":0.08,"w":-0.28},{"p":53,"t":0.12,"w":-0.18},{"p":53,"t":0.16,"w":-0.05},{"p":53,"t":0.2,"w":-0.15},{"p":53,"t":0.24,"w":-0.02},{"p":53,"t":0.28,"w":0.12},{"p":53,"t":0.32,"w":0.02},{"p":53,"t":0.36,"w":0.15},{"p":53,"t":0.4,"w":0.28},{"p":53,"t":0.44,"w":0.18},{"p":53,"t":0.48,"w":0.05},{"p":53,"t":0.52,"w":-0.08},{"p":53,"t":0.56,"w":0.05},{"p":53,"t":0.6,"w":-0.05},{"p":53,"t":0.64,"w":0.1},{"p":53,"t":0.68,"w":0.22},{"p":53,"t":0.72,"w":0.12},{"p":53,"t":0.76,"w":0.25},{"p":53,"t":0.8,"w":0.15},{"p":53,"t":0.84,"w":0.02},{"p":53,"t":0.88,"w":0.12},{"p":53,"t":0.92,"w":0.0},{"p":53,"t":0.96,"w":0.15},{"p":53,"t":1,"w":0.1},
{"p":54,"t":0,"w":0},{"p":54,"t":0.04,"w":0.06},{"p":54,"t":0.08,"w":0.18},{"p":54,"t":0.12,"w":0.3},{"p":54,"t":0.16,"w":0.42},{"p":54,"t":0.2,"w":0.35},{"p":54,"t":0.24,"w":0.22},{"p":54,"t":0.28,"w":0.35},{"p":54,"t":0.32,"w":0.25},{"p":54,"t":0.36,"w":0.12},{"p":54,"t":0.4,"w":0.02},{"p":54,"t":0.44,"w":0.15},{"p":54,"t":0.48,"w":0.05},{"p":54,"t":0.52,"w":-0.08},{"p":54,"t":0.56,"w":0.05},{"p":54,"t":0.6,"w":-0.1},{"p":54,"t":0.64,"w":-0.22},{"p":54,"t":0.68,"w":-0.12},{"p":54,"t":0.72,"w":-0.28},{"p":54,"t":0.76,"w":-0.18},{"p":54,"t":0.8,"w":-0.05},{"p":54,"t":0.84,"w":-0.15},{"p":54,"t":0.88,"w":-0.28},{"p":54,"t":0.92,"w":-0.15},{"p":54,"t":0.96,"w":-0.3},{"p":54,"t":1,"w":-0.2},
{"p":55,"t":0,"w":0},{"p":55,"t":0.04,"w":-0.05},{"p":55,"t":0.08,"w":-0.15},{"p":55,"t":0.12,"w":-0.05},{"p":55,"t":0.16,"w":-0.18},{"p":55,"t":0.2,"w":-0.3},{"p":55,"t":0.24,"w":-0.2},{"p":55,"t":0.28,"w":-0.32},{"p":55,"t":0.32,"w":-0.45},{"p":55,"t":0.36,"w":-0.35},{"p":55,"t":0.4,"w":-0.48},{"p":55,"t":0.44,"w":-0.6},{"p":55,"t":0.48,"w":-0.52},{"p":55,"t":0.52,"w":-0.65},{"p":55,"t":0.56,"w":-0.55},{"p":55,"t":0.6,"w":-0.42},{"p":55,"t":0.64,"w":-0.52},{"p":55,"t":0.68,"w":-0.4},{"p":55,"t":0.72,"w":-0.28},{"p":55,"t":0.76,"w":-0.38},{"p":55,"t":0.8,"w":-0.5},{"p":55,"t":0.84,"w":-0.42},{"p":55,"t":0.88,"w":-0.55},{"p":55,"t":0.92,"w":-0.45},{"p":55,"t":0.96,"w":-0.58},{"p":55,"t":1,"w":-0.45},
{"p":56,"t":0,"w":0},{"p":56,"t":0.04,"w":0.15},{"p":56,"t":0.08,"w":0.05},{"p":56,"t":0.12,"w":-0.08},{"p":56,"t":0.16,"w":0.05},{"p":56,"t":0.2,"w":-0.1},{"p":56,"t":0.24,"w":-0.22},{"p":56,"t":0.28,"w":-0.12},{"p":56,"t":0.32,"w":-0.25},{"p":56,"t":0.36,"w":-0.38},{"p":56,"t":0.4,"w":-0.28},{"p":56,"t":0.44,"w":-0.15},{"p":56,"t":0.48,"w":-0.28},{"p":56,"t":0.52,"w":-0.4},{"p":56,"t":0.56,"w":-0.3},{"p":56,"t":0.6,"w":-0.45},{"p":56,"t":0.64,"w":-0.58},{"p":56,"t":0.68,"w":-0.48},{"p":56,"t":0.72,"w":-0.62},{"p":56,"t":0.76,"w":-0.75},{"p":56,"t":0.8,"w":-0.65},{"p":56,"t":0.84,"w":-0.78},{"p":56,"t":0.88,"w":-0.68},{"p":56,"t":0.92,"w":-0.58},{"p":56,"t":0.96,"w":-0.72},{"p":56,"t":1,"w":-0.65},
{"p":57,"t":0,"w":0},{"p":57,"t":0.04,"w":-0.12},{"p":57,"t":0.08,"w":-0.05},{"p":57,"t":0.12,"w":-0.2},{"p":57,"t":0.16,"w":-0.35},{"p":57,"t":0.2,"w":-0.28},{"p":57,"t":0.24,"w":-0.42},{"p":57,"t":0.28,"w":-0.32},{"p":57,"t":0.32,"w":-0.2},{"p":57,"t":0.36,"w":-0.32},{"p":57,"t":0.4,"w":-0.45},{"p":57,"t":0.44,"w":-0.58},{"p":57,"t":0.48,"w":-0.5},{"p":57,"t":0.52,"w":-0.65},{"p":57,"t":0.56,"w":-0.78},{"p":57,"t":0.6,"w":-0.7},{"p":57,"t":0.64,"w":-0.85},{"p":57,"t":0.68,"w":-0.98},{"p":57,"t":0.72,"w":-0.9},{"p":57,"t":0.76,"w":-1.05},{"p":57,"t":0.8,"w":-0.95},{"p":57,"t":0.84,"w":-1.1},{"p":57,"t":0.88,"w":-1.22},{"p":57,"t":0.92,"w":-1.12},{"p":57,"t":0.96,"w":-1.25},{"p":57,"t":1,"w":-1.15},
{"p":58,"t":0,"w":0},{"p":58,"t":0.04,"w":-0.1},{"p":58,"t":0.08,"w":-0.22},{"p":58,"t":0.12,"w":-0.35},{"p":58,"t":0.16,"w":-0.48},{"p":58,"t":0.2,"w":-0.4},{"p":58,"t":0.24,"w":-0.55},{"p":58,"t":0.28,"w":-0.68},{"p":58,"t":0.32,"w":-0.8},{"p":58,"t":0.36,"w":-0.72},{"p":58,"t":0.4,"w":-0.88},{"p":58,"t":0.44,"w":-1.0},{"p":58,"t":0.48,"w":-0.92},{"p":58,"t":0.52,"w":-1.08},{"p":58,"t":0.56,"w":-1.22},{"p":58,"t":0.6,"w":-1.15},{"p":58,"t":0.64,"w":-1.3},{"p":58,"t":0.68,"w":-1.2},{"p":58,"t":0.72,"w":-1.35},{"p":58,"t":0.76,"w":-1.48},{"p":58,"t":0.8,"w":-1.4},{"p":58,"t":0.84,"w":-1.55},{"p":58,"t":0.88,"w":-1.45},{"p":58,"t":0.92,"w":-1.58},{"p":58,"t":0.96,"w":-1.52},{"p":58,"t":1,"w":-1.45},
{"p":46,"t":0,"w":0},{"p":46,"t":0.024,"w":0.28},{"p":46,"t":0.054,"w":0.45},{"p":46,"t":0.074,"w":0.56},{"p":46,"t":0.079,"w":0.67},{"p":46,"t":0.087,"w":0.56},{"p":46,"t":0.102,"w":0.67},{"p":46,"t":0.121,"w":0.77},{"p":46,"t":0.134,"w":0.88},{"p":46,"t":0.143,"w":0.89},{"p":46,"t":0.154,"w":0.98},{"p":46,"t":0.17,"w":0.85},{"p":46,"t":0.187,"w":0.88},{"p":46,"t":0.196,"w":1.01},{"p":46,"t":0.201,"w":1.16},{"p":46,"t":0.211,"w":1.14},{"p":46,"t":0.219,"w":1.04},{"p":46,"t":0.226,"w":1.06},{"p":46,"t":0.239,"w":1.29},{"p":46,"t":0.249,"w":1.3},{"p":46,"t":0.259,"w":1.17},{"p":46,"t":0.271,"w":1.11},{"p":46,"t":0.286,"w":1.14},{"p":46,"t":0.295,"w":1.24},{"p":46,"t":0.312,"w":1.27},{"p":46,"t":0.324,"w":1.38},{"p":46,"t":0.331,"w":1.24},{"p":46,"t":0.359,"w":1.21},{"p":46,"t":0.374,"w":1.23},{"p":46,"t":0.391,"w":1.38},{"p":46,"t":0.404,"w":1.3},{"p":46,"t":0.421,"w":1.25},{"p":46,"t":0.445,"w":1.45},{"p":46,"t":0.454,"w":1.27},{"p":46,"t":0.469,"w":1.32},{"p":46,"t":0.484,"w":1.55},{"p":46,"t":0.488,"w":1.66},{"p":46,"t":0.505,"w":1.8},{"p":46,"t":0.514,"w":1.66},{"p":46,"t":0.524,"w":1.68},{"p":46,"t":0.551,"w":1.74},{"p":46,"t":0.563,"w":1.68},{"p":46,"t":0.574,"w":1.73},{"p":46,"t":0.585,"w":1.96},{"p":46,"t":0.595,"w":1.87},{"p":46,"t":0.608,"w":1.88},{"p":46,"t":0.621,"w":1.98},{"p":46,"t":0.641,"w":2.01},{"p":46,"t":0.651,"w":2.08},{"p":46,"t":0.661,"w":2.21},{"p":46,"t":0.673,"w":2.21},{"p":46,"t":0.686,"w":2.12},{"p":46,"t":0.698,"w":2.06},{"p":46,"t":0.72,"w":1.98},{"p":46,"t":0.735,"w":2.07},{"p":46,"t":0.746,"w":1.91},{"p":46,"t":0.766,"w":2.0},{"p":46,"t":0.784,"w":2.06},{"p":46,"t":0.8,"w":2.03},{"p":46,"t":0.817,"w":2.26},{"p":46,"t":0.831,"w":2.39},{"p":46,"t":0.84,"w":2.35},{"p":46,"t":0.858,"w":2.26},{"p":46,"t":0.87,"w":2.15},{"p":46,"t":0.885,"w":1.98},{"p":46,"t":0.896,"w":2.09},{"p":46,"t":0.908,"w":1.94},{"p":46,"t":0.923,"w":1.9},{"p":46,"t":0.941,"w":1.94},{"p":46,"t":0.951,"w":1.73},{"p":46,"t":0.963,"w":1.79},{"p":46,"t":0.975,"w":2.0},{"p":46,"t":0.986,"w":1.9},{"p":46,"t":1,"w":1.84},
{"p":47,"t":0,"w":0},{"p":47,"t":0.02,"w":0.15},{"p":47,"t":0.04,"w":0.3},{"p":47,"t":0.06,"w":0.42},{"p":47,"t":0.08,"w":0.62},{"p":47,"t":0.1,"w":0.55},{"p":47,"t":0.12,"w":0.72},{"p":47,"t":0.14,"w":0.65},{"p":47,"t":0.16,"w":0.85},{"p":47,"t":0.18,"w":0.78},{"p":47,"t":0.2,"w":0.95},{"p":47,"t":0.22,"w":0.88},{"p":47,"t":0.24,"w":0.98},{"p":47,"t":0.26,"w":1.05},{"p":47,"t":0.28,"w":1.0},{"p":47,"t":0.3,"w":1.08},{"p":47,"t":0.32,"w":1.02},{"p":47,"t":0.34,"w":1.1},{"p":47,"t":0.36,"w":1.03},{"p":47,"t":0.38,"w":1.03},{"p":47,"t":0.4,"w":1.04},{"p":47,"t":0.42,"w":0.8},{"p":47,"t":0.44,"w":0.85},{"p":47,"t":0.46,"w":0.95},{"p":47,"t":0.48,"w":0.9},{"p":47,"t":0.5,"w":1.05},{"p":47,"t":0.506,"w":1.1},{"p":47,"t":0.524,"w":1.21},{"p":47,"t":0.533,"w":1.31},{"p":47,"t":0.548,"w":1.31},{"p":47,"t":0.569,"w":1.42},{"p":47,"t":0.589,"w":1.4},{"p":47,"t":0.61,"w":1.3},{"p":47,"t":0.631,"w":1.4},{"p":47,"t":0.649,"w":1.45},{"p":47,"t":0.658,"w":1.42},{"p":47,"t":0.673,"w":1.36},{"p":47,"t":0.681,"w":1.34},{"p":47,"t":0.713,"w":1.59},{"p":47,"t":0.723,"w":1.55},{"p":47,"t":0.731,"w":1.64},{"p":47,"t":0.748,"w":1.66},{"p":47,"t":0.761,"w":1.59},{"p":47,"t":0.771,"w":1.44},{"p":47,"t":0.781,"w":1.62},{"p":47,"t":0.791,"w":1.49},{"p":47,"t":0.811,"w":1.75},{"p":47,"t":0.831,"w":1.85},{"p":47,"t":0.848,"w":1.77},{"p":47,"t":0.855,"w":1.73},{"p":47,"t":0.87,"w":1.87},{"p":47,"t":0.89,"w":1.95},{"p":47,"t":0.91,"w":1.78},{"p":47,"t":0.93,"w":1.7},{"p":47,"t":0.95,"w":1.65},{"p":47,"t":0.97,"w":1.72},{"p":47,"t":0.985,"w":1.68},{"p":47,"t":1,"w":1.8},
{"p":48,"t":0,"w":0},{"p":48,"t":0.024,"w":0.19},{"p":48,"t":0.049,"w":0.34},{"p":48,"t":0.074,"w":0.41},{"p":48,"t":0.087,"w":0.5},{"p":48,"t":0.112,"w":0.58},{"p":48,"t":0.124,"w":0.5},{"p":48,"t":0.136,"w":0.58},{"p":48,"t":0.162,"w":0.49},{"p":48,"t":0.189,"w":0.34},{"p":48,"t":0.211,"w":0.45},{"p":48,"t":0.237,"w":0.34},{"p":48,"t":0.261,"w":0.39},{"p":48,"t":0.286,"w":0.26},{"p":48,"t":0.312,"w":0.3},{"p":48,"t":0.336,"w":0.35},{"p":48,"t":0.36,"w":0.45},{"p":48,"t":0.384,"w":0.36},{"p":48,"t":0.416,"w":0.54},{"p":48,"t":0.458,"w":0.43},{"p":48,"t":0.473,"w":0.58},{"p":48,"t":0.494,"w":0.37},{"p":48,"t":0.524,"w":0.43},{"p":48,"t":0.556,"w":0.58},{"p":48,"t":0.575,"w":0.45},{"p":48,"t":0.589,"w":0.53},{"p":48,"t":0.599,"w":0.64},{"p":48,"t":0.634,"w":0.75},{"p":48,"t":0.658,"w":0.88},{"p":48,"t":0.673,"w":0.8},{"p":48,"t":0.694,"w":0.92},{"p":48,"t":0.711,"w":0.97},{"p":48,"t":0.73,"w":0.85},{"p":48,"t":0.75,"w":0.88},{"p":48,"t":0.77,"w":0.8},{"p":48,"t":0.796,"w":0.92},{"p":48,"t":0.806,"w":1.04},{"p":48,"t":0.813,"w":1.25},{"p":48,"t":0.823,"w":1.34},{"p":48,"t":0.836,"w":1.36},{"p":48,"t":0.848,"w":1.32},{"p":48,"t":0.855,"w":1.44},{"p":48,"t":0.87,"w":1.53},{"p":48,"t":0.881,"w":1.54},{"p":48,"t":0.893,"w":1.64},{"p":48,"t":0.9,"w":1.56},{"p":48,"t":0.911,"w":1.44},{"p":48,"t":0.923,"w":1.6},{"p":48,"t":0.938,"w":1.51},{"p":48,"t":0.948,"w":1.6},{"p":48,"t":0.96,"w":1.66},{"p":48,"t":0.973,"w":1.75},{"p":48,"t":0.986,"w":1.77},{"p":48,"t":1,"w":1.81},
{"p":49,"t":0,"w":0},{"p":49,"t":0.03,"w":0.1},{"p":49,"t":0.06,"w":0.25},{"p":49,"t":0.09,"w":0.2},{"p":49,"t":0.12,"w":0.35},{"p":49,"t":0.15,"w":0.45},{"p":49,"t":0.18,"w":0.6},{"p":49,"t":0.21,"w":0.55},{"p":49,"t":0.24,"w":0.75},{"p":49,"t":0.27,"w":0.7},{"p":49,"t":0.3,"w":0.9},{"p":49,"t":0.33,"w":0.85},{"p":49,"t":0.359,"w":1.03},{"p":49,"t":0.381,"w":1.03},{"p":49,"t":0.405,"w":1.04},{"p":49,"t":0.419,"w":0.8},{"p":49,"t":0.44,"w":0.75},{"p":49,"t":0.46,"w":0.85},{"p":49,"t":0.48,"w":0.7},{"p":49,"t":0.5,"w":0.65},{"p":49,"t":0.52,"w":0.75},{"p":49,"t":0.54,"w":0.6},{"p":49,"t":0.56,"w":0.55},{"p":49,"t":0.58,"w":0.7},{"p":49,"t":0.6,"w":0.8},{"p":49,"t":0.62,"w":0.95},{"p":49,"t":0.64,"w":1.1},{"p":49,"t":0.66,"w":1.2},{"p":49,"t":0.68,"w":1.3},{"p":49,"t":0.7,"w":1.45},{"p":49,"t":0.72,"w":1.4},{"p":49,"t":0.74,"w":1.55},{"p":49,"t":0.76,"w":1.5},{"p":49,"t":0.78,"w":1.35},{"p":49,"t":0.8,"w":1.45},{"p":49,"t":0.82,"w":1.6},{"p":49,"t":0.84,"w":1.55},{"p":49,"t":0.86,"w":1.75},{"p":49,"t":0.88,"w":1.9},{"p":49,"t":0.896,"w":2.09},{"p":49,"t":0.915,"w":1.83},{"p":49,"t":0.936,"w":1.7},{"p":49,"t":0.948,"w":1.68},{"p":49,"t":0.968,"w":1.7},{"p":49,"t":0.99,"w":1.92},{"p":49,"t":1,"w":1.78},
{"p":50,"t":0,"w":0},{"p":50,"t":0.018,"w":0.11},{"p":50,"t":0.027,"w":0.04},{"p":50,"t":0.036,"w":0.0},{"p":50,"t":0.041,"w":0.09},{"p":50,"t":0.05,"w":0.21},{"p":50,"t":0.058,"w":0.26},{"p":50,"t":0.065,"w":0.15},{"p":50,"t":0.074,"w":0.08},{"p":50,"t":0.084,"w":-0.03},{"p":50,"t":0.096,"w":-0.1},{"p":50,"t":0.106,"w":0.08},{"p":50,"t":0.117,"w":0.14},{"p":50,"t":0.129,"w":0.11},{"p":50,"t":0.136,"w":0.16},{"p":50,"t":0.144,"w":0.08},{"p":50,"t":0.151,"w":-0.17},{"p":50,"t":0.157,"w":0.0},{"p":50,"t":0.17,"w":0.0},{"p":50,"t":0.179,"w":0.09},{"p":50,"t":0.189,"w":-0.03},{"p":50,"t":0.198,"w":0.11},{"p":50,"t":0.21,"w":-0.06},{"p":50,"t":0.222,"w":0.15},{"p":50,"t":0.232,"w":0.0},{"p":50,"t":0.241,"w":-0.14},{"p":50,"t":0.251,"w":-0.28},{"p":50,"t":0.258,"w":-0.21},{"p":50,"t":0.265,"w":-0.17},{"p":50,"t":0.275,"w":-0.1},{"p":50,"t":0.284,"w":-0.03},{"p":50,"t":0.294,"w":0.08},{"p":50,"t":0.303,"w":0.15},{"p":50,"t":0.318,"w":0.19},{"p":50,"t":0.327,"w":0.33},{"p":50,"t":0.337,"w":0.36},{"p":50,"t":0.346,"w":0.33},{"p":50,"t":0.356,"w":0.36},{"p":50,"t":0.365,"w":0.26},{"p":50,"t":0.377,"w":0.36},{"p":50,"t":0.384,"w":0.51},{"p":50,"t":0.394,"w":0.83},{"p":50,"t":0.403,"w":0.76},{"p":50,"t":0.413,"w":0.76},{"p":50,"t":0.422,"w":0.79},{"p":50,"t":0.434,"w":0.79},{"p":50,"t":0.441,"w":0.88},{"p":50,"t":0.451,"w":0.83},{"p":50,"t":0.46,"w":0.69},{"p":50,"t":0.475,"w":0.65},{"p":50,"t":0.484,"w":0.79},{"p":50,"t":0.497,"w":0.94},{"p":50,"t":0.504,"w":0.72},{"p":50,"t":0.516,"w":0.81},{"p":50,"t":0.528,"w":0.88},{"p":50,"t":0.542,"w":1.04},{"p":50,"t":0.556,"w":1.19},{"p":50,"t":0.575,"w":1.38},{"p":50,"t":0.589,"w":1.36},{"p":50,"t":0.599,"w":1.26},{"p":50,"t":0.609,"w":1.51},{"p":50,"t":0.621,"w":1.33},{"p":50,"t":0.632,"w":1.4},{"p":50,"t":0.642,"w":1.33},{"p":50,"t":0.656,"w":1.4},{"p":50,"t":0.67,"w":1.42},{"p":50,"t":0.685,"w":1.46},{"p":50,"t":0.699,"w":1.61},{"p":50,"t":0.714,"w":1.76},{"p":50,"t":0.723,"w":1.86},{"p":50,"t":0.733,"w":1.89},{"p":50,"t":0.742,"w":1.96},{"p":50,"t":0.749,"w":2.01},{"p":50,"t":0.756,"w":1.79},{"p":50,"t":0.764,"w":1.66},{"p":50,"t":0.774,"w":1.59},{"p":50,"t":0.78,"w":1.65},{"p":50,"t":0.79,"w":1.83},{"p":50,"t":0.802,"w":1.88},{"p":50,"t":0.814,"w":1.95},{"p":50,"t":0.823,"w":1.97},{"p":50,"t":0.835,"w":2.01},{"p":50,"t":0.843,"w":2.04},{"p":50,"t":0.852,"w":1.81},{"p":50,"t":0.86,"w":2.01},{"p":50,"t":0.869,"w":1.99},{"p":50,"t":0.881,"w":2.04},{"p":50,"t":0.89,"w":2.26},{"p":50,"t":0.898,"w":2.33},{"p":50,"t":0.909,"w":2.35},{"p":50,"t":0.918,"w":2.36},{"p":50,"t":0.928,"w":2.19},{"p":50,"t":0.937,"w":2.24},{"p":50,"t":0.947,"w":2.26},{"p":50,"t":0.957,"w":2.31},{"p":50,"t":0.964,"w":2.16},{"p":50,"t":0.974,"w":2.47},{"p":50,"t":0.981,"w":2.65},{"p":50,"t":0.989,"w":2.86},{"p":50,"t":0.995,"w":2.85},{"p":50,"t":1,"w":2.81}
]
},
"layer": [
{
  "data": {"name": "paths"},
  "transform": [{"lookup": "p", "from": {"data": {"name": "weights"}, "key": "p", "fields": ["z"]}}, {"filter": "datum.z < 3"}],
  "mark": {"type": "line", "strokeWidth": 1.5, "strokeOpacity": 0.35, "clip": true},
  "encoding": {
    "x": {"field": "t", "type": "quantitative", "scale": {"domain": [-0.051, 1.05], "nice": false, "zero": false},
          "axis": {"values": [0, 0.2, 0.4, 0.6, 0.8, 1], "format": ".1f", "title": "t", "titlePadding": 12}},
    "y": {"field": "w", "type": "quantitative", "scale": {"domain": [-1.99, 3.08], "nice": false, "zero": false},
          "axis": {"values": [-1, 0, 1, 2, 3], "format": "d", "title": "Wₜ", "titlePadding": 18}},
    "detail": {"field": "p", "type": "nominal"},
    "color": {"field": "z", "type": "quantitative", "scale": {"scheme": "viridis", "domain": [0.065, 14.1]},
              "legend": {"orient": "none", "legendX": 1561, "legendY": 0, "direction": "vertical", "gradientLength": 908, "gradientThickness": 46,
                         "gradientStrokeColor": "black", "gradientStrokeWidth": 1.5, "values": [2, 4, 6, 8, 10, 12, 14], "labelOverlap": false,
                         "labelFontSize": 25, "labelColor": "black", "labelOffset": 12, "title": null,
                         "encode": {"gradient": {"update": {"opacity": {"value": 1}, "fillOpacity": {"value": 1}}}}}}
  }
},
{
  "data": {"name": "paths"},
  "transform": [{"lookup": "p", "from": {"data": {"name": "weights"}, "key": "p", "fields": ["z"]}}, {"filter": "datum.z >= 3 && datum.z < 10"}],
  "mark": {"type": "line", "strokeWidth": 3.8, "strokeOpacity": 0.5, "clip": true},
  "encoding": {
    "x": {"field": "t", "type": "quantitative"},
    "y": {"field": "w", "type": "quantitative"},
    "detail": {"field": "p", "type": "nominal"},
    "color": {"field": "z", "type": "quantitative"}
  }
},
{
  "data": {"name": "paths"},
  "transform": [{"lookup": "p", "from": {"data": {"name": "weights"}, "key": "p", "fields": ["z"]}}, {"filter": "datum.z >= 10"}],
  "mark": {"type": "line", "strokeWidth": 7, "strokeOpacity": 0.85, "clip": true},
  "encoding": {
    "x": {"field": "t", "type": "quantitative"},
    "y": {"field": "w", "type": "quantitative"},
    "detail": {"field": "p", "type": "nominal"},
    "color": {"field": "z", "type": "quantitative"}
  }
},
{
  "data": {"values": [{"t": 0, "w": 0}, {"t": 1, "w": 1.2}]},
  "mark": {"type": "line", "color": "#dc143c", "strokeWidth": 4.5},
  "encoding": {
    "x": {"field": "t", "type": "quantitative"},
    "y": {"field": "w", "type": "quantitative"},
    "strokeDash": {"datum": "new-drift mean θt (θ = 1.2)", "type": "nominal", "scale": {"range": [[18, 8]]},
                   "legend": {"title": null, "orient": "none", "legendX": 16, "legendY": 14, "symbolType": "stroke",
                              "symbolStrokeColor": "#dc143c", "symbolStrokeWidth": 5, "symbolSize": 2025, "symbolDash": [20, 8], "symbolOffset": 6,
                              "labelFontSize": 28, "labelColor": "black", "labelLimit": 800, "labelOffset": 16,
                              "fillColor": "rgba(255,255,255,0.85)", "strokeColor": "#cccccc", "cornerRadius": 5, "padding": 3}}
  }
},
{
  "data": {"values": [{}]},
  "mark": {"type": "rect", "fill": "#edf5e9", "stroke": "#8dc78d", "strokeWidth": 2, "cornerRadius": 6},
  "encoding": {"x": {"datum": -0.0337}, "x2": {"datum": 0.5146}, "y": {"datum": -1.503}, "y2": {"datum": -1.966}}
},
{
  "data": {"values": [{}]},
  "mark": {"type": "text", "text": ["Z_T upweights paths compatible with the new drift θ", "and downweights the others."],
           "align": "left", "baseline": "top", "fontSize": 27, "color": "#444444", "lineHeight": 35},
  "encoding": {"x": {"datum": -0.027}, "y": {"datum": -1.545}}
},
{
  "data": {"values": [{}]},
  "mark": {"type": "text", "text": "path weight Z_T = e^(θW_T − θ²T/2)", "angle": 270, "align": "center", "baseline": "middle",
           "fontSize": 25, "color": "black"},
  "encoding": {"x": {"datum": 1.222}, "y": {"datum": 0.56}}
}
]
}
